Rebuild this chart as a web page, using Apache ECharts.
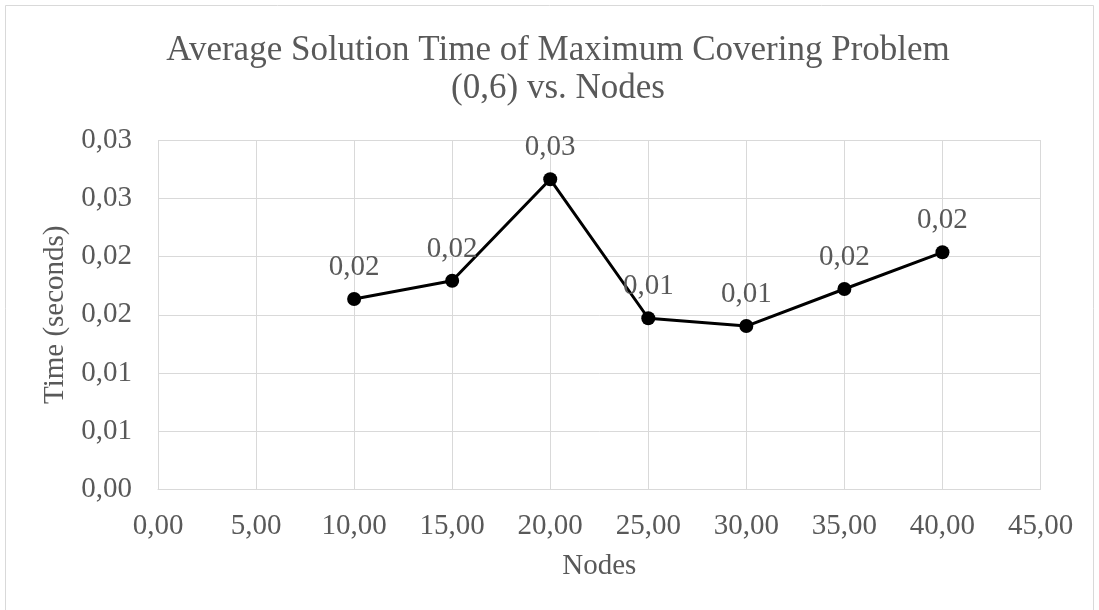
<!DOCTYPE html>
<html><head><meta charset="utf-8">
<script src="https://cdn.jsdelivr.net/npm/echarts@6/dist/echarts.min.js"></script>
<style>html,body{margin:0;padding:0;background:#fff}#c{width:1099px;height:610px}</style>
</head><body><div id="c"></div>
<script>
const nodes = [10, 15, 20, 25, 30, 35, 40];
const times = [0.01635, 0.01792, 0.02663, 0.01470, 0.01403, 0.01721, 0.02036];
const titleLines = ['Average Solution Time of Maximum Covering Problem', '(0,6) vs. Nodes'];
const xName = 'Nodes';
const yName = 'Time (seconds)';

const fmt = v => (Math.round(v * 100) / 100).toFixed(2).replace('.', ',');
const font = '"Liberation Serif", "Times New Roman", serif';
const gray = '#595959';
const chart = echarts.init(document.getElementById('c'));
chart.setOption({
  backgroundColor: '#fff',
  animation: false,
  graphic: [{type: 'rect', shape: {x: 5.5, y: 5.5, width: 1088, height: 620}, style: {fill: 'none', stroke: '#d9d9d9', lineWidth: 1}}],
  title: {
    text: titleLines.join('\n'), left: 553, top: 27, textAlign: 'center',
    textStyle: {fontFamily: font, fontSize: 35, fontWeight: 'normal', color: gray, lineHeight: 38}
  },
  grid: {left: 158, right: 58.5, top: 140, bottom: 120.5},
  xAxis: {
    type: 'value', min: 0, max: 45, interval: 5,
    name: xName, nameLocation: 'middle', nameGap: 62,
    nameTextStyle: {fontFamily: font, fontSize: 29, color: gray},
    axisLine: {show: true, lineStyle: {color: '#d9d9d9', width: 1}},
    axisTick: {show: false},
    splitLine: {show: true, lineStyle: {color: '#d9d9d9', width: 1}},
    axisLabel: {fontFamily: font, fontSize: 29, color: gray, margin: 22, formatter: fmt}
  },
  yAxis: {
    type: 'value', min: 0, max: 0.03, interval: 0.005,
    name: yName, nameLocation: 'middle', nameGap: 84,
    nameTextStyle: {fontFamily: font, fontSize: 29, color: gray},
    axisLine: {show: false}, axisTick: {show: false},
    splitLine: {show: true, lineStyle: {color: '#d9d9d9', width: 1}},
    axisLabel: {fontFamily: font, fontSize: 29, color: gray, margin: 26, formatter: fmt}
  },
  series: [{
    type: 'line',
    data: nodes.map((n, i) => [n, times[i]]),
    symbol: 'circle', symbolSize: 14,
    lineStyle: {color: '#000', width: 3},
    itemStyle: {color: '#000'},
    label: {show: true, position: 'top', distance: 10, fontFamily: font, fontSize: 29, color: gray,
      formatter: p => fmt(p.value[1])}
  }]
});
</script></body></html>
